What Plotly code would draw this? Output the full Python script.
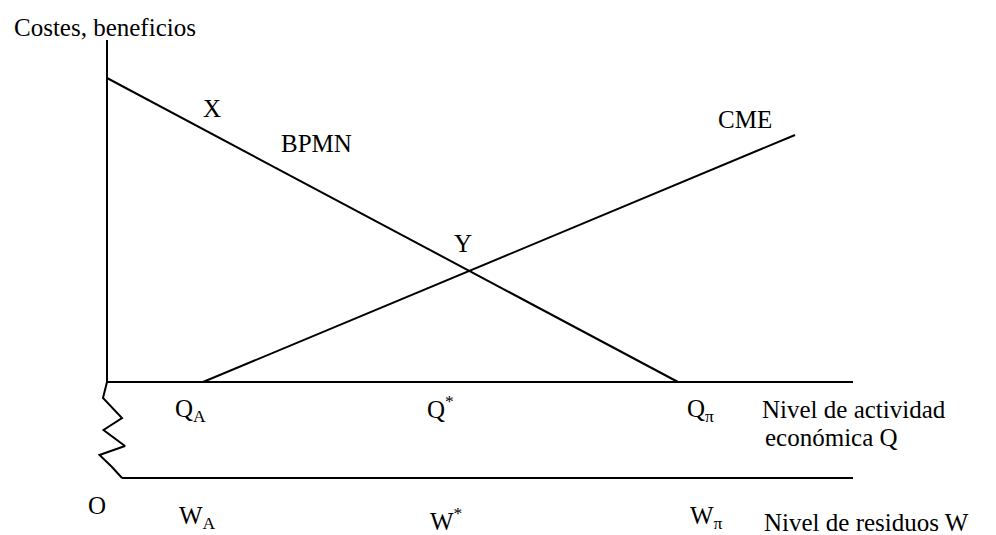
import plotly.graph_objects as go

# Conceptual coordinates: origin at the corner of the axes, x = activity level, y = cost/benefit
bpmn_x = [0, 571]
bpmn_y = [304, 0]
cme_x = [96, 688]
cme_y = [0, 247]
yaxis_x = [0, 0]
yaxis_y = [0, 342]
qaxis_x = [0, 746]
qaxis_y = [0, 0]
waxis_x = [15, 746]
waxis_y = [-96, -96]
zig_x = [0, -4, 15, -3.5, 18, -7.5, 5, 15]
zig_y = [0, -16, -36, -48, -64, -73, -85, -96]

FONT = "Liberation Serif, Times New Roman, serif"
fig = go.Figure()
line = dict(color="black", width=2)
for xs, ys in [(yaxis_x, yaxis_y), (qaxis_x, qaxis_y), (waxis_x, waxis_y),
               (zig_x, zig_y), (bpmn_x, bpmn_y), (cme_x, cme_y)]:
    fig.add_trace(go.Scatter(x=xs, y=ys, mode="lines", line=line,
                             hoverinfo="skip", showlegend=False))

labels = [
    (-95, 355, "Costes, beneficios", "left"),
    (105, 274, "X", "center"),
    (209, 239, "BPMN", "center"),
    (356, 139, "Y", "center"),
    (638, 263, "CME", "center"),
    (83, -28, "Q<sub>A</sub>", "center"),
    (333, -25, "Q<sup>*</sup>", "center"),
    (593, -28, "Q<sub>π</sub>", "center"),
    (653, -27, "Nivel de actividad", "left"),
    (656, -55, "económica Q", "left"),
    (-10, -123, "O", "center"),
    (90, -135, "W<sub>A</sub>", "center"),
    (339, -137, "W<sup>*</sup>", "center"),
    (599, -135, "W<sub>π</sub>", "center"),
    (655, -140, "Nivel de residuos W", "left"),
]
for x, y, t, anc in labels:
    fig.add_annotation(x=x, y=y, text=t, showarrow=False, xanchor=anc,
                       yanchor="middle", font=dict(family=FONT, size=25, color="black"))

fig.update_layout(
    width=996, height=535,
    margin=dict(l=0, r=0, t=0, b=0),
    paper_bgcolor="white", plot_bgcolor="white",
    xaxis=dict(range=[-107, 889], visible=False, fixedrange=True),
    yaxis=dict(range=[-153, 382], visible=False, fixedrange=True),
)
fig.write_html("out.html", config={"displayModeBar": False},
               post_script="document.body.style.margin='0';document.body.style.overflow='hidden';")
